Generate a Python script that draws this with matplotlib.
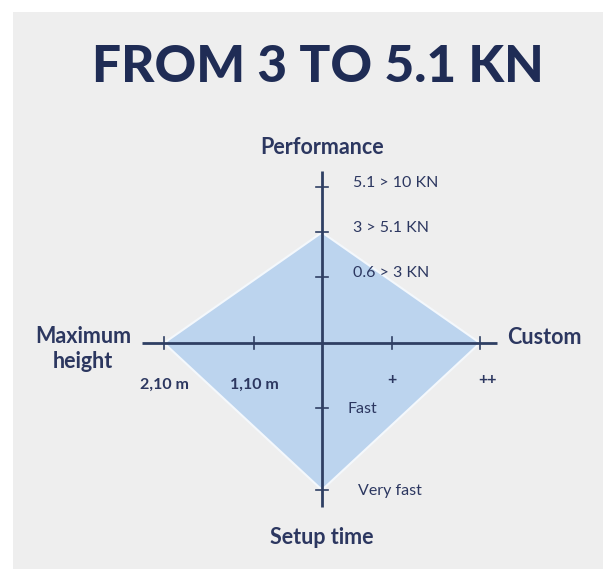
import matplotlib
matplotlib.use("Agg")
import matplotlib.pyplot as plt
from matplotlib.patches import Polygon, Rectangle
import numpy as np

# ---- data ----
title = "FROM 3 TO 5.1 KN"
axis_names = ["Performance", "Custom", "Setup time", "Maximum\nheight"]
perf_ticks = ["0.6 > 3 KN", "3 > 5.1 KN", "5.1 > 10 KN"]
perf_pos = [0.42, 0.70, 0.99]
custom_ticks = ["+", "++"]
custom_pos = [0.44, 1.0]
setup_ticks = ["Fast", "Very fast"]
setup_pos = [0.41, 0.93]
height_ticks = ["1,10 m", "2,10 m"]
height_pos = [0.43, 1.0]
selected = {"Performance": "3 > 5.1 KN", "Custom": "++",
            "Setup time": "Very fast", "Maximum height": "2,10 m"}

# ---- layout ----
W, H = 610, 569
CX, CY, R = 322, 343, 158.0
NAVY = "#1f2c55"
TXT = "#2c3760"
LINE = "#2f3f63"
FILL = "#bcd4ee"

fig = plt.figure(figsize=(W / 100, H / 100), dpi=100, facecolor="white")
ax = fig.add_axes([0, 0, 1, 1])
ax.set_xlim(-CX / R, (W - CX) / R)
ax.set_ylim(-(H - CY) / R, CY / R)
ax.axis("off")

def px(x, y):
    return ((x - CX) / R, (CY - y) / R)

ax.add_patch(Rectangle((13 / W, 0), (603 - 13) / W, (H - 12) / H,
                       transform=ax.transAxes, facecolor="#eeeeee",
                       edgecolor="none", zorder=0))

fam = ["Lato", "DejaVu Sans"]
TICK_FS = 11.5
NAME_FS = 15.5

# diamond
r_top = perf_pos[perf_ticks.index(selected["Performance"])]
r_right = custom_pos[custom_ticks.index(selected["Custom"])]
r_bot = setup_pos[setup_ticks.index(selected["Setup time"])]
r_left = height_pos[height_ticks.index(selected["Maximum height"])]
poly = Polygon([(0, r_top), (r_right, 0), (0, -r_bot), (-r_left, 0)],
               closed=True, facecolor=FILL, edgecolor="#f4f8fc", lw=1.5, zorder=2)
ax.add_patch(poly)

# axes lines
ax.plot([-1.14, 1.11], [0, 0], color=LINE, lw=2, zorder=3, solid_capstyle="butt")
ax.plot([0, 0], [-1.04, 1.09], color=LINE, lw=2, zorder=3, solid_capstyle="butt")
t = 6 / R
for p in perf_pos:
    ax.plot([-t, t], [p, p], color=LINE, lw=1.2, zorder=3)
for p in setup_pos:
    ax.plot([-t, t], [-p, -p], color=LINE, lw=1.2, zorder=3)
for p in custom_pos:
    ax.plot([p, p], [-t, t], color=LINE, lw=1.2, zorder=3)
for p in height_pos:
    ax.plot([-p, -p], [-t, t], color=LINE, lw=1.2, zorder=3)

# tick labels
for lab, p in zip(perf_ticks, perf_pos):
    ax.text(31 / R, p + 4 / R, lab, ha="left", va="center", fontsize=TICK_FS,
            color=TXT, family=fam, zorder=4)
for lab, p in zip(setup_ticks, setup_pos):
    ax.text((25 if lab == "Fast" else 36) / R, -p - 1 / R, lab, ha="left",
            va="center", fontsize=TICK_FS, color=TXT, family=fam, zorder=4)
for lab, p in zip(custom_ticks, custom_pos):
    ax.text(p + (0 if lab == "+" else 7 / R), -37 / R, lab, ha="center",
            va="center", fontsize=TICK_FS, color=TXT, family=fam,
            fontweight="bold", zorder=4)
for lab, p in zip(height_ticks, height_pos):
    ax.text(-p, -42 / R, lab, ha="center", va="center", fontsize=TICK_FS,
            color=TXT, family=fam, fontweight="bold", zorder=4)

# axis names
x, y = px(322, 147)
ax.text(x, y, axis_names[0], ha="center", va="center", fontsize=NAME_FS,
        fontweight="bold", color=TXT, family=fam)
x, y = px(507, 337)
ax.text(x, y, axis_names[1], ha="left", va="center", fontsize=NAME_FS,
        fontweight="bold", color=TXT, family=fam)
x, y = px(322, 537)
ax.text(x, y, axis_names[2], ha="center", va="center", fontsize=NAME_FS,
        fontweight="bold", color=TXT, family=fam)
x, y = px(83, 349)
ax.text(x, y, axis_names[3], ha="center", va="center", fontsize=NAME_FS,
        fontweight="bold", color=TXT, family=fam, linespacing=1.2)

# title
x, y = px(318, 67)
ax.text(x, y, title, ha="center", va="center", fontsize=37,
        fontweight="black", color=NAVY, family=fam)

fig.savefig("out.png", dpi=100, facecolor="white")
